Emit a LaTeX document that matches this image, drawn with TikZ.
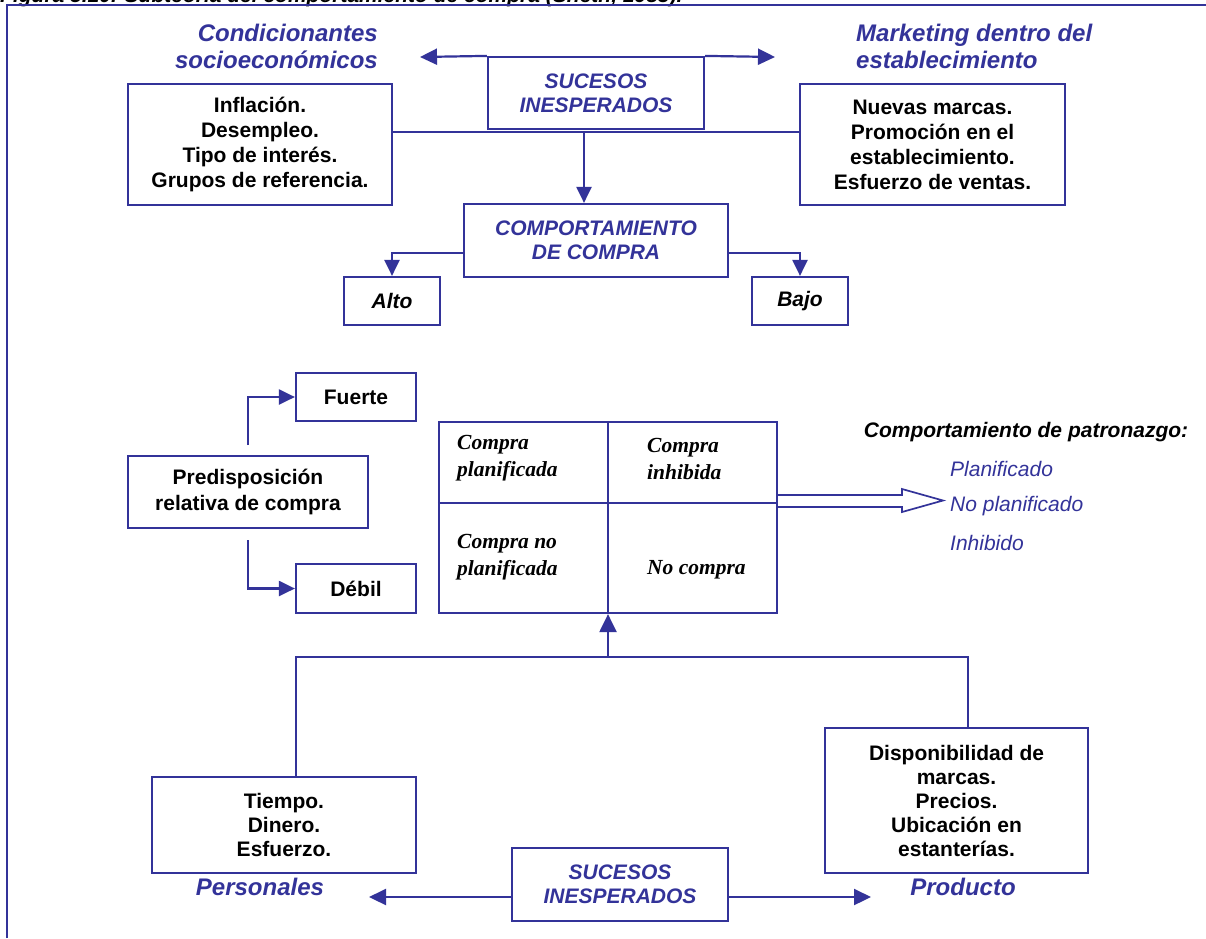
\documentclass[tikz,border=0pt]{standalone}
\usepackage{fontspec}
\setmainfont{Liberation Sans}
\newfontfamily\tnr{Liberation Serif}
\usetikzlibrary{arrows.meta}
\definecolor{ib}{RGB}{51,51,153}
\begin{document}
\begin{tikzpicture}[x=1pt,y=-1pt,
  ln/.style={draw=ib, line width=2.2pt},
  bx/.style={ln, rectangle, inner sep=0pt, align=center, text=black,
    font=\fontsize{21}{25}\selectfont\bfseries},
  bxi/.style={bx, font=\fontsize{21}{25}\selectfont\bfseries\itshape},
  bxblue/.style={bx, text=ib, font=\fontsize{21}{24}\selectfont\bfseries\itshape},
  arr/.style={ln, -{Triangle[length=16pt,width=15pt]}},
  darr/.style={ln, -{Triangle[length=17pt,width=16pt]}},
  heading/.style={text=ib, inner sep=0pt, font=\fontsize{24}{27}\selectfont\bfseries\itshape},
  cell/.style={inner sep=0pt, align=left, text=black, anchor=west,
    font=\fontsize{21.5}{27}\selectfont\tnr\bfseries\itshape},
  outcome/.style={inner sep=0pt, anchor=west, text=ib, font=\fontsize{21}{25}\selectfont\itshape}]
\useasboundingbox (0,0) rectangle (1206,938);

% caption line, cut by the page edge
\begin{scope}
  \clip (0,0) rectangle (1206,938);
  \node[anchor=base west, inner sep=0pt, text=black,
    font=\fontsize{21}{25}\selectfont\bfseries\itshape] (title) at (0,2.5)
    {Figura 5.10. Subteoría del comportamiento de compra (Sheth, 1983).};
\end{scope}

% frame
\draw[ln] (7,938) -- (7,5) -- (1206,5);

% ---------- upper part ----------
\node[heading, anchor=east, align=right] (cond) at (378,46.5) {Condicionantes\\socioeconómicos};
\node[heading, anchor=west, align=left] (mkt) at (856,46.5) {Marketing dentro del\\establecimiento};

\node[bxblue, minimum width=216pt, minimum height=72pt] (sucT) at (596,93) {SUCESOS\\INESPERADOS};
\coordinate (tl) at (420,57);
\coordinate (tr) at (775,57);
\draw[darr] (sucT.north west) -- (tl);
\draw[darr] (sucT.north east) -- (tr);

\node[bx, minimum width=264pt, minimum height=121pt] (infl) at (260,144.5)
  {Inflación.\\Desempleo.\\Tipo de interés.\\Grupos de referencia.};
\node[bx, minimum width=265pt, minimum height=121pt] (nuev) at (932.5,144.5)
  {Nuevas marcas.\\Promoción en el\\establecimiento.\\Esfuerzo de ventas.};

\node[bxblue, minimum width=264pt, minimum height=73pt] (comp) at (596,240.5)
  {COMPORTAMIENTO\\DE COMPRA};
\node[bxi, minimum width=96pt, minimum height=48pt] (alto) at (392,301) {Alto};
\node[bxi, minimum width=96pt, minimum height=48pt] (bajo) at (800,301) {Bajo};

\coordinate (hub) at (584,132);
\draw[ln] (hub -| infl.east) -- (hub -| nuev.west);
\draw[arr] (hub) -- (hub |- comp.north);
\draw[arr] (comp.west |- 0,253) -| (alto.north);
\draw[arr] (comp.east |- 0,253) -| (bajo.north);

% ---------- middle part ----------
\node[bx, minimum width=240pt, minimum height=72pt, font=\fontsize{21}{26}\selectfont\bfseries]
  (pred) at (248,492) {Predisposición\\relativa de compra};
\node[bx, minimum width=120pt, minimum height=48pt] (fuer) at (356,397) {Fuerte};
\node[bx, minimum width=120pt, minimum height=49pt] (debil) at (356,588.5) {Débil};
\draw[arr] (pred.north |- 0,445) |- (fuer.west);
\draw[arr] (pred.south |- 0,540) |- (debil.west);

% purchase matrix
\node[ln, rectangle, inner sep=0pt, minimum width=338pt, minimum height=191pt] (mat) at (608,517.5) {};
\draw[ln] (mat.north) -- (mat.south);
\draw[ln] (mat.west |- 0,503) -- (mat.east |- 0,503);
\node[cell] (c11) at (457,458.5) {Compra\\planificada};
\node[cell] (c12) at (647,458.5) {Compra\\inhibida};
\node[cell] (c21) at (457,557) {Compra no\\planificada};
\node[cell] (c22) at (647,570) {No compra};

% hollow arrow towards the outcomes
\draw[draw=ib, line width=1.7pt, fill=white]
  (mat.east |- 0,495) -- (902,495) -- (902,489) -- (943,500.5) -- (902,512)
  -- (902,507) -- (mat.east |- 0,507);

\node[inner sep=0pt, text=black, font=\fontsize{21}{25}\selectfont\bfseries\itshape]
  (patr) at (1026,432) {Comportamiento de patronazgo:};
\node[outcome] (o1) at (950,469) {Planificado};
\node[outcome] (o2) at (950,506) {No planificado};
\node[outcome] (o3) at (950,543) {Inhibido};

% ---------- lower part ----------
\node[bx, minimum width=264pt, minimum height=96pt, font=\fontsize{21}{24}\selectfont\bfseries]
  (tiem) at (284,825) {Tiempo.\\Dinero.\\Esfuerzo.};
\node[bx, minimum width=263pt, minimum height=145pt, font=\fontsize{21}{24}\selectfont\bfseries]
  (disp) at (956.5,800.5) {Disponibilidad de\\marcas.\\Precios.\\Ubicación en\\estanterías.};

\coordinate (bh) at (608,657);
\draw[ln] (tiem.north -| 296,0) -- (296,657) -- (968,657) -- (disp.north -| 968,0);
\draw[ln, -{Triangle[length=18pt,width=17pt]}] (bh) -- (mat.south -| bh);

\node[bxblue, minimum width=216pt, minimum height=73pt] (sucB) at (620,884.5) {SUCESOS\\INESPERADOS};
\coordinate (bl) at (369,897);
\coordinate (br) at (871,897);
\draw[darr] (sucB.west |- 0,897) -- (bl);
\draw[darr] (sucB.east |- 0,897) -- (br);

\node[heading] (pers) at (260,887) {Personales};
\node[heading] (prod) at (963,887) {Producto};
\end{tikzpicture}
\end{document}
